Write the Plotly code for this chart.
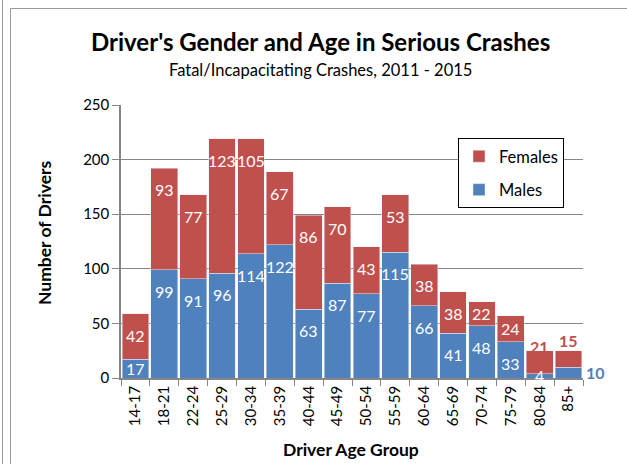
import plotly.graph_objects as go

age_groups = ["14-17", "18-21", "22-24", "25-29", "30-34", "35-39", "40-44", "45-49",
              "50-54", "55-59", "60-64", "65-69", "70-74", "75-79", "80-84", "85+"]
males = [17, 99, 91, 96, 114, 122, 63, 87, 77, 115, 66, 41, 48, 33, 4, 10]
females = [42, 93, 77, 123, 105, 67, 86, 70, 43, 53, 38, 38, 22, 24, 21, 15]
y_ticks = [0, 50, 100, 150, 200, 250]

RED = "#C0504D"
BLUE = "#4F81BD"
FONT = "Lato"
W, H = 627, 464
L, R, T, B = 121, 44, 105, 86
PW, PH = W - L - R, H - T - B
Y_MAX = 250
PX_PER_UNIT = PH / Y_MAX


def xp(px):
    return (px - L) / PW


def yp(py):
    return (H - B - py) / PH


n = len(age_groups)

fig = go.Figure()
fig.add_trace(go.Bar(x=age_groups, y=males, name="Males", marker_color=BLUE,
                     legendgroup="m", legendrank=2))
fig.add_trace(go.Bar(x=age_groups, y=females, name="Females", marker_color=RED,
                     legendgroup="f", legendrank=1))

LABEL_FONT = dict(size=16, family=FONT, color="white")


def seg_label(cat, base, val, text=None):
    txt = str(val) if text is None else text
    top = base + val
    if val * PX_PER_UNIT >= 30:
        fig.add_annotation(x=cat, y=top, text=txt, showarrow=False, yanchor="top",
                           yshift=-10, font=LABEL_FONT)
    else:
        fig.add_annotation(x=cat, y=base + val / 2, text=txt, showarrow=False,
                           yanchor="middle", font=LABEL_FONT)


for i, cat in enumerate(age_groups):
    m, f = males[i], females[i]
    if i < n - 1:
        seg_label(cat, 0, m)
    else:
        fig.add_annotation(x=cat, y=m / 2, text="<b>%d</b>" % m, showarrow=False,
                           xanchor="left", yanchor="middle", xshift=15,
                           font=dict(size=16, family=FONT, color=BLUE))
    if i < n - 2:
        seg_label(cat, m, f)
    else:
        fig.add_annotation(x=cat, y=m + f, text="<b>%d</b>" % f, showarrow=False,
                           yanchor="bottom", yshift=(-7 if i == n - 2 else -1),
                           font=dict(size=16, family=FONT, color=RED))


def paper_text(px, py, text, size, angle=0):
    fig.add_annotation(xref="paper", yref="paper", x=xp(px), y=yp(py), text=text,
                       showarrow=False, xanchor="center", yanchor="middle",
                       textangle=angle, font=dict(size=size, family=FONT, color="black"))


paper_text(320, 42, "<b>Driver's Gender and Age in Serious Crashes</b>", 24)
paper_text(320, 70, "Fatal/Incapacitating Crashes, 2011 - 2015", 16.5)
paper_text(44, 233, "<b>Number of Drivers</b>", 17.5, -90)
paper_text(351, 449, "<b>Driver Age Group</b>", 17.5)

# frame lines
frame = "#9a9a9a"
fig.add_shape(type="line", xref="paper", yref="paper", x0=xp(2.5), x1=xp(2.5),
              y0=yp(0), y1=yp(464), line=dict(color=frame, width=1))
fig.add_shape(type="line", xref="paper", yref="paper", x0=xp(10.5), x1=xp(10.5),
              y0=yp(8.5), y1=yp(464), line=dict(color=frame, width=1))
fig.add_shape(type="line", xref="paper", yref="paper", x0=xp(10.5), x1=xp(627),
              y0=yp(8.5), y1=yp(8.5), line=dict(color=frame, width=1))

fig.update_layout(
    width=W, height=H, barmode="stack", bargap=0.07,
    margin=dict(l=L, r=R, t=T, b=B, pad=0),
    paper_bgcolor="white", plot_bgcolor="white",
    font=dict(family=FONT, color="black", size=15),
    showlegend=True,
    legend=dict(x=xp(458), y=yp(138), xanchor="left", yanchor="top",
                traceorder="grouped", tracegroupgap=9, itemwidth=30,
                bordercolor="black", borderwidth=1, bgcolor="white",
                font=dict(size=16.5, family=FONT, color="black")),
    xaxis=dict(type="category", range=[-0.5, n - 0.5], autorange=False,
               tickangle=-90, showline=True, linecolor="#868686",
               linewidth=1.5, ticks="outside", tickson="boundaries", ticklen=6,
               tickcolor="#868686", tickfont=dict(size=15, family=FONT)),
    yaxis=dict(range=[0, Y_MAX], autorange=False, tickvals=y_ticks, showline=True,
               linecolor="#868686", linewidth=1.5, ticks="outside", ticklen=7,
               tickcolor="#868686", showgrid=True, gridcolor="#868686", gridwidth=1,
               zeroline=False, tickfont=dict(size=15, family=FONT)),
)

fig.write_html("out.html", config={"displayModeBar": False},
               post_script="document.body.style.margin='0';")
